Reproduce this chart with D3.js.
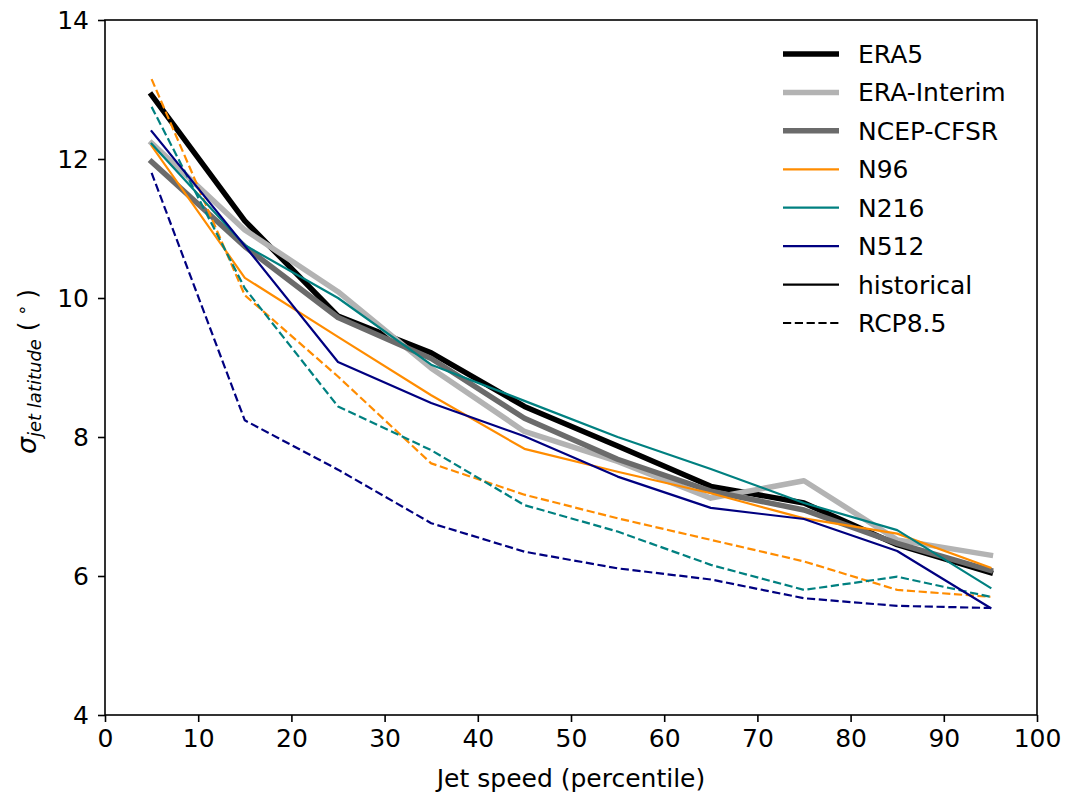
<!DOCTYPE html>
<html>
<head>
<meta charset="utf-8">
<script src="https://cdn.jsdelivr.net/npm/d3@7"></script>
<style>
  html, body { margin: 0; padding: 0; background: #fff; }
  svg { display: block; font-family: "DejaVu Sans", sans-serif; }
</style>
</head>
<body>
<svg id="chart" width="1066" height="795"></svg>
<script>
// Jet speed percentile bins
const percentiles = [5, 15, 25, 35, 45, 55, 65, 75, 85, 95];

// Reanalyses
const era5       = [12.92, 11.11, 9.74, 9.21, 8.44, 7.87, 7.29, 7.05, 6.45, 6.05];
const eraInterim = [12.23, 10.98, 10.09, 8.99, 8.08, 7.65, 7.12, 7.37, 6.52, 6.30];
const ncepCfsr   = [11.96, 10.74, 9.72, 9.13, 8.27, 7.68, 7.22, 6.95, 6.47, 6.08];

// Model runs, historical
const n96Hist  = [12.19, 10.29, 9.44, 8.60, 7.83, 7.50, 7.19, 6.83, 6.61, 6.12];
const n216Hist = [12.22, 10.76, 10.00, 9.04, 8.52, 8.00, 7.54, 7.05, 6.66, 5.83];
const n512Hist = [12.40, 10.75, 9.08, 8.49, 8.01, 7.43, 6.98, 6.82, 6.36, 5.54];

// Model runs, RCP8.5
const n96Rcp  = [13.15, 10.04, 8.87, 7.62, 7.17, 6.83, 6.52, 6.21, 5.80, 5.70];
const n216Rcp = [12.75, 10.14, 8.44, 7.81, 7.02, 6.64, 6.16, 5.80, 5.99, 5.70];
const n512Rcp = [11.80, 8.24, 7.53, 6.76, 6.35, 6.11, 5.95, 5.68, 5.57, 5.54];

const xTicks = [0, 10, 20, 30, 40, 50, 60, 70, 80, 90, 100];
const yTicks = [4, 6, 8, 10, 12, 14];

const legendNames = ["ERA5", "ERA-Interim", "NCEP-CFSR", "N96", "N216", "N512", "historical", "RCP8.5"];

const colors = {
  era5: "#000000", eraInterim: "#b3b3b3", ncep: "#6b6b6b",
  n96: "#ff8c00", n216: "#008080", n512: "#000080"
};

const THICK = 5.5, THIN = 2.2, DASH = "8.2,3.6";
const FONT = "25px";

const series = [
  { values: era5,       color: colors.era5,       width: THICK, dash: null },
  { values: eraInterim, color: colors.eraInterim, width: THICK, dash: null },
  { values: ncepCfsr,   color: colors.ncep,       width: THICK, dash: null },
  { values: n96Hist,    color: colors.n96,        width: THIN,  dash: null },
  { values: n96Rcp,     color: colors.n96,        width: THIN,  dash: DASH },
  { values: n216Hist,   color: colors.n216,       width: THIN,  dash: null },
  { values: n216Rcp,    color: colors.n216,       width: THIN,  dash: DASH },
  { values: n512Hist,   color: colors.n512,       width: THIN,  dash: null },
  { values: n512Rcp,    color: colors.n512,       width: THIN,  dash: DASH }
];

const svg = d3.select("#chart");
const mLeft = 105, mRight = 1037, mTop = 20, mBottom = 715;

const x = d3.scaleLinear().domain([0, 100]).range([mLeft, mRight]);
const y = d3.scaleLinear().domain([4, 14]).range([mBottom, mTop]);

const line = d3.line()
  .x((d, i) => x(percentiles[i]))
  .y(d => y(d));

// data lines
const plot = svg.append("g");
series.forEach(s => {
  plot.append("path")
    .datum(s.values)
    .attr("d", line)
    .attr("fill", "none")
    .attr("stroke", s.color)
    .attr("stroke-width", s.width)
    .attr("stroke-linejoin", "round")
    .attr("stroke-linecap", s.dash ? "butt" : "square")
    .attr("stroke-dasharray", s.dash);
});

// axes frame
svg.append("rect")
  .attr("x", mLeft).attr("y", mTop)
  .attr("width", mRight - mLeft).attr("height", mBottom - mTop)
  .attr("fill", "none").attr("stroke", "#000").attr("stroke-width", 1.6);

const xAxis = d3.axisBottom(x).tickValues(xTicks).tickSize(7).tickPadding(7).tickFormat(d3.format("d"));
const yAxis = d3.axisLeft(y).tickValues(yTicks).tickSize(7).tickPadding(9).tickFormat(d3.format("d"));

const gx = svg.append("g").attr("transform", `translate(0,${mBottom})`).call(xAxis);
const gy = svg.append("g").attr("transform", `translate(${mLeft},0)`).call(yAxis);
[gx, gy].forEach(g => {
  g.select(".domain").remove();
  g.selectAll(".tick line").attr("stroke", "#000").attr("stroke-width", 1.6);
  g.selectAll(".tick text").attr("fill", "#000")
    .style("font-family", "DejaVu Sans").style("font-size", FONT);
});

// axis titles
svg.append("text")
  .attr("x", (mLeft + mRight) / 2).attr("y", 787)
  .attr("text-anchor", "middle")
  .style("font-size", FONT)
  .text("Jet speed (percentile)");

const yl = svg.append("text")
  .attr("transform", `translate(36,${(mTop + mBottom) / 2 + 4}) rotate(-90)`)
  .attr("text-anchor", "middle")
  .style("font-size", FONT);
yl.append("tspan").attr("font-style", "italic").style("font-size", "27px").text("σ");
yl.append("tspan").attr("font-style", "italic").style("font-size", "18px").attr("dy", 5).text("jet latitude");
yl.append("tspan").attr("dy", -5).text(" (");
yl.append("tspan").style("font-size", "18px").attr("dy", -8).text(" ∘ ");
yl.append("tspan").attr("dy", 8).text(")");

// legend
const legendStyle = [
  { color: colors.era5, width: THICK, dash: null },
  { color: colors.eraInterim, width: THICK, dash: null },
  { color: colors.ncep, width: THICK, dash: null },
  { color: colors.n96, width: THIN, dash: null },
  { color: colors.n216, width: THIN, dash: null },
  { color: colors.n512, width: THIN, dash: null },
  { color: "#000", width: THIN, dash: null },
  { color: "#000", width: THIN, dash: DASH }
];
const legendY = d3.scaleLinear().domain([0, 7]).range([54, 323]);
const lg = svg.append("g");
legendNames.forEach((name, i) => {
  const yy = legendY(i);
  lg.append("line")
    .attr("x1", 783).attr("x2", 839).attr("y1", yy).attr("y2", yy)
    .attr("stroke", legendStyle[i].color)
    .attr("stroke-width", legendStyle[i].width)
    .attr("stroke-dasharray", legendStyle[i].dash);
  lg.append("text")
    .attr("x", 858).attr("y", yy + 9)
    .style("font-size", FONT)
    .text(name);
});
</script>
</body>
</html>
